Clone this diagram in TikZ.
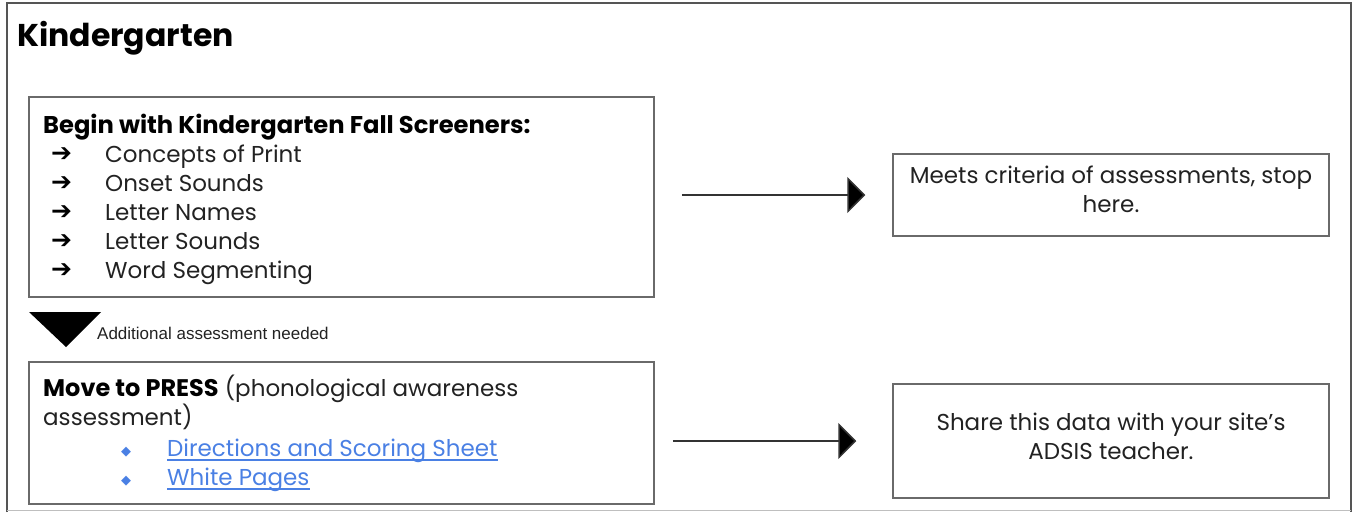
\documentclass[tikz,border=0pt]{standalone}
\usepackage{fontspec}
\setmainfont{Poppins}
\newfontfamily\arialf{Liberation Sans}
\newfontfamily\dejavuf{DejaVu Sans}
\usetikzlibrary{arrows.meta}
\definecolor{framegray}{HTML}{555555}
\definecolor{boxgray}{HTML}{6A6A6A}
\definecolor{linkblue}{HTML}{4A80E4}
\definecolor{txt}{HTML}{222222}
\tikzset{
  boxnode/.style={draw=boxgray, line width=1.5pt, rectangle, inner sep=0pt},
  bodytext/.style={font=\fontsize{23}{29}\selectfont, text=txt, inner sep=0pt},
  arrowglyph/.style={font=\dejavuf\bfseries\fontsize{25}{28}\selectfont, text=black, inner sep=0pt},
  diamondglyph/.style={font=\dejavuf\fontsize{13}{16}\selectfont, text=linkblue, inner sep=0pt},
  linktext/.style={bodytext, text=linkblue},
  flowarrow/.style={line width=1.5pt, draw=black!80, -{Triangle[length=18pt, width=36pt, fill=black]}},
}
\begin{document}
\begin{tikzpicture}[x=1pt, y=-1pt]
\useasboundingbox (0,0) rectangle (1353,512);
% outer frame
\draw[framegray, line width=2.5pt] (7,512) -- (7,3) -- (1351,3) -- (1351,512);
\draw[black!25, line width=1pt] (7,510.5) -- (1351,510.5);
\node[anchor=base west, inner sep=0pt, font=\bfseries\fontsize{31.5}{38}\selectfont] (title) at (17,46) {Kindergarten};

% boxes
\node[boxnode, minimum width=625pt, minimum height=200pt] (b1) at (341.5,197) {};
\node[boxnode, minimum width=625pt, minimum height=142pt] (b2) at (341.5,433) {};
\node[boxnode, minimum width=436pt, minimum height=82pt] (b3) at (1111,195) {};
\node[boxnode, minimum width=436pt, minimum height=114pt] (b4) at (1111,441) {};

% box 1 text
\node[bodytext, anchor=base west, font=\bfseries\fontsize{24.2}{29}\selectfont, text=black] (h1) at (43,133) {Begin with Kindergarten Fall Screeners:};
\foreach \t/\yy [count=\i] in {Concepts of Print/162, Onset Sounds/191, Letter Names/220, Letter Sounds/249, Word Segmenting/278}{
  \node[arrowglyph, anchor=base west] (a\i) at (51,\yy-0.5) {➔};
  \node[bodytext, anchor=base west] (i\i) at (105,\yy) {\t};
}

% additional assessment marker
\fill[black] (29,312) -- (101,312) -- (66,347) -- cycle;
\node[anchor=base west, inner sep=0pt, font=\arialf\fontsize{17}{20}\selectfont, text=txt] (add) at (97,339) {Additional assessment needed};

% box 2 text
\node[bodytext, anchor=base west] (h2a) at (43,396) {{\fontsize{24}{29}\selectfont\bfseries\color{black}Move to PRESS} (phonological awareness};
\node[bodytext, anchor=base west] (h2b) at (43,425) {assessment)};
\node[diamondglyph, anchor=base west] (d1) at (121,455) {◆};
\node[diamondglyph, anchor=base west] (d2) at (121,484) {◆};
\node[linktext, anchor=base west] (l1) at (167,456) {Directions and Scoring Sheet};
\node[linktext, anchor=base west] (l2) at (167,485) {White Pages};
\draw[linkblue, line width=1.3pt] ([yshift=-4pt]l1.base west) -- ([yshift=-4pt]l1.base east);
\draw[linkblue, line width=1.3pt] ([yshift=-4pt]l2.base west) -- ([yshift=-4pt]l2.base east);

% right boxes text
\node[bodytext, align=center] (t3) at (1111,189) {Meets criteria of assessments, stop\\here.};
\node[bodytext, align=center] (t4) at (1111,436) {Share this data with your site’s\\ADSIS teacher.};

% connectors
\draw[flowarrow, shorten <=27pt, shorten >=27pt] (b1.east |- b3.west) -- (b3.west);
\draw[flowarrow, shorten <=18pt, shorten >=36pt] (b2.east |- b4.west) -- (b4.west);
\end{tikzpicture}
\end{document}
